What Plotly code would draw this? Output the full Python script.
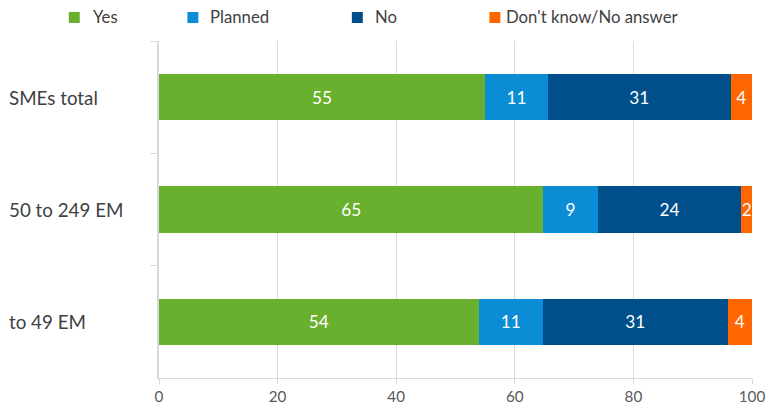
import plotly.graph_objects as go

categories = ["SMEs total", "50 to 249 EM", "to 49 EM"]
series_names = ["Yes", "Planned", "No", "Don't know/No answer"]
yes = [55.0, 64.8, 53.9]
planned = [10.6, 9.2, 10.8]
no = [30.8, 24.2, 31.2]
dont_know = [3.6, 1.8, 4.1]
x_ticks = [0, 20, 40, 60, 80, 100]

colors = ["#6ab02f", "#0a8dd5", "#004f8a", "#ff6600"]
values = [yes, planned, no, dont_know]

# page is captured slightly larger than the window and scaled down; compensate
REF_W, REF_H = 769, 409
W, H = 777, 417
KX, KY = W / REF_W, H / REF_H
KF = (KX + KY) / 2

def sx(p):
    return p * KX

def sy(p):
    return p * KY

L, R, T, B = sx(157.5), sx(16.5), sy(40), sy(32)
pw, ph = W - L - R, H - T - B

def px_x(p):
    return (sx(p) - L) / pw

def px_y(p):
    return (H - B - sy(p)) / ph

fig = go.Figure()
for name, vals, col in zip(series_names, values, colors):
    fig.add_trace(go.Bar(
        y=categories, x=vals, name=name, orientation="h",
        marker=dict(color=col, line=dict(width=0)),
        text=vals, texttemplate="%{x:.0f}", textposition="inside",
        insidetextanchor="middle", constraintext="none",
        textfont=dict(color="white", size=17 * KF, family="Lato"),
        showlegend=False, hoverinfo="x+name",
    ))

shapes = []
annotations = []
# manual legend
leg_sq = [67, 186, 351, 489]
leg_tx = [89, 207, 372, 504]
for name, col, sqx, tx in zip(series_names, colors, leg_sq, leg_tx):
    shapes.append(dict(type="rect", xref="paper", yref="paper",
                       x0=px_x(sqx), x1=px_x(sqx + 11), y0=px_y(22), y1=px_y(11),
                       fillcolor=col, line=dict(width=0)))
    annotations.append(dict(text=name, xref="paper", yref="paper",
                            x=px_x(tx), y=px_y(16), xanchor="left", yanchor="middle",
                            showarrow=False,
                            font=dict(size=16.5 * KF, color="#404040", family="Lato")))
# category labels left-aligned
for c in categories:
    annotations.append(dict(text=c, xref="paper", yref="y", x=px_x(5), y=c,
                            xanchor="left", yanchor="middle", showarrow=False,
                            font=dict(size=18.5 * KF, color="#404040", family="Lato")))

fig.update_layout(
    width=W, height=H, barmode="stack", bargap=0.59,
    margin=dict(l=L, r=R, t=T, b=B, pad=0),
    plot_bgcolor="white", paper_bgcolor="white",
    shapes=shapes, annotations=annotations,
    uniformtext=dict(minsize=17 * KF, mode="show"),
    xaxis=dict(range=[0, 100], tickvals=x_ticks, showgrid=True, gridcolor="#dcdcdc",
               gridwidth=1, zeroline=False, showline=True, linecolor="#d9d9d9",
               ticks="outside", ticklen=5, tickcolor="#d9d9d9",
               tickfont=dict(size=15 * KF, color="#595959", family="Lato")),
    yaxis=dict(range=[2.5, -0.5], showgrid=False, zeroline=False, showline=True,
               linecolor="#d9d9d9", linewidth=1.5, ticks="outside", tickson="boundaries",
               ticklen=7, tickcolor="#d9d9d9", showticklabels=False),
)

css = "margin:0;padding:0;overflow:hidden;"
fig.write_html(
    "out.html",
    config={"displayModeBar": False},
    post_script=(
        "document.documentElement.style.cssText='" + css + "';"
        "document.body.style.cssText='" + css + "';"
    ),
)
